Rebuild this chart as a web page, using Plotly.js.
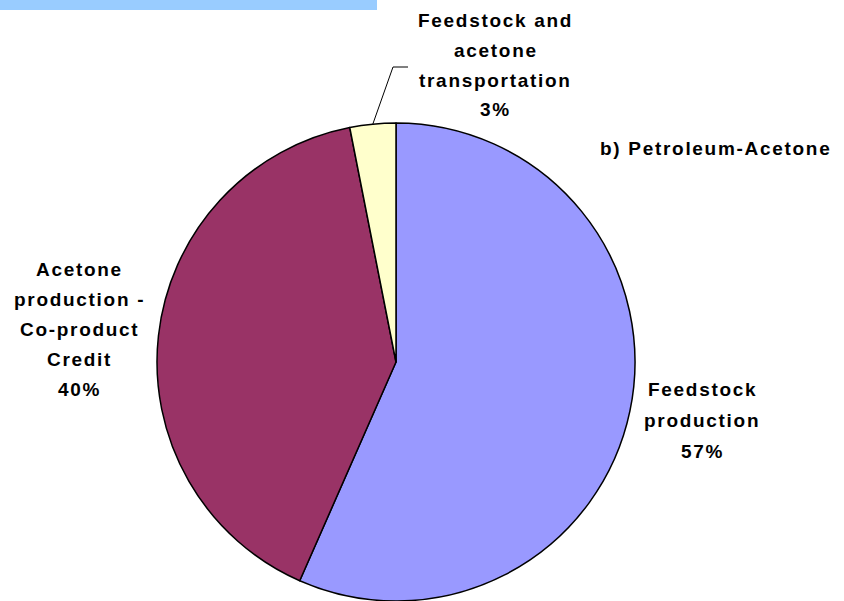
<!DOCTYPE html>
<html>
<head>
<meta charset="utf-8">
<script src="https://cdn.plot.ly/plotly-3.0.1.min.js"></script>
<style>
html,body{margin:0;padding:0;background:#fff;}
#chart{width:844px;height:601px;}
.annotation-text{letter-spacing:1.7px;}
</style>
</head>
<body>
<div id="chart"></div>
<script>
// Data
const categories = ["Feedstock production", "Acetone production - Co-product Credit", "Feedstock and acetone transportation"];
const shares = [56.6, 40.3, 3.1];
const sliceColors = ["#9999FF", "#993366", "#FFFFCC"];
const chartTitle = "b) Petroleum-Acetone";

const total = shares.reduce((a, b) => a + b, 0);
const pct = shares.map(v => Math.round(v / total * 100) + "%");

// Label lines (text split the way the reference wraps it)
const labelLines = [
  ["Feedstock", "production", pct[0]],
  ["Acetone", "production -", "Co-product", "Credit", pct[1]],
  ["Feedstock and", "acetone", "transportation", pct[2]]
];

const W = 844, H = 601;
const px = x => x / W;
const py = y => 1 - y / H;

// label block placement (pixel centre x, first line y, line step)
const labelPos = [
  {x: 702, y0: 389, step: 31},
  {x: 79, y0: 269, step: 30},
  {x: 496, y0: 21, step: 29.5}
];

const font = {family: "Liberation Sans, Arial, sans-serif", size: 19, color: "#000", weight: 700};

const annotations = [];
labelLines.forEach((lines, i) => {
  const p = labelPos[i];
  lines.forEach((t, j) => {
    annotations.push({
      text: t, xref: "paper", yref: "paper",
      x: px(p.x), y: py(p.y0 + j * p.step),
      xanchor: "center", yanchor: "middle", showarrow: false, font: font
    });
  });
});
annotations.push({
  text: chartTitle, xref: "paper", yref: "paper",
  x: px(715), y: py(148), xanchor: "center", yanchor: "middle",
  showarrow: false, font: {family: font.family, size: 19, color: "#000", weight: 700}
});

const trace = {
  type: "pie",
  labels: categories,
  values: shares,
  sort: false,
  direction: "clockwise",
  rotation: 0,
  textinfo: "none",
  hoverinfo: "none",
  marker: {colors: sliceColors, line: {color: "#000", width: 1.5}},
  domain: {x: [157 / W, 635 / W], y: [0, py(123)]},
  showlegend: false
};

const layout = {
  width: W, height: H,
  margin: {l: 0, r: 0, t: 0, b: 0},
  paper_bgcolor: "#fff",
  showlegend: false,
  annotations: annotations,
  shapes: [
    {type: "rect", xref: "paper", yref: "paper", x0: 0, x1: px(377), y0: py(10), y1: 1,
     fillcolor: "#99CCFF", line: {width: 0}, layer: "below"},
    {type: "path", xref: "paper", yref: "paper",
     path: "M " + px(372.5) + " " + py(125) + " L " + px(393) + " " + py(67) + " L " + px(408) + " " + py(67),
     line: {color: "#000", width: 1}}
  ]
};

Plotly.newPlot("chart", [trace], layout, {staticPlot: true, displayModeBar: false});
</script>
</body>
</html>
